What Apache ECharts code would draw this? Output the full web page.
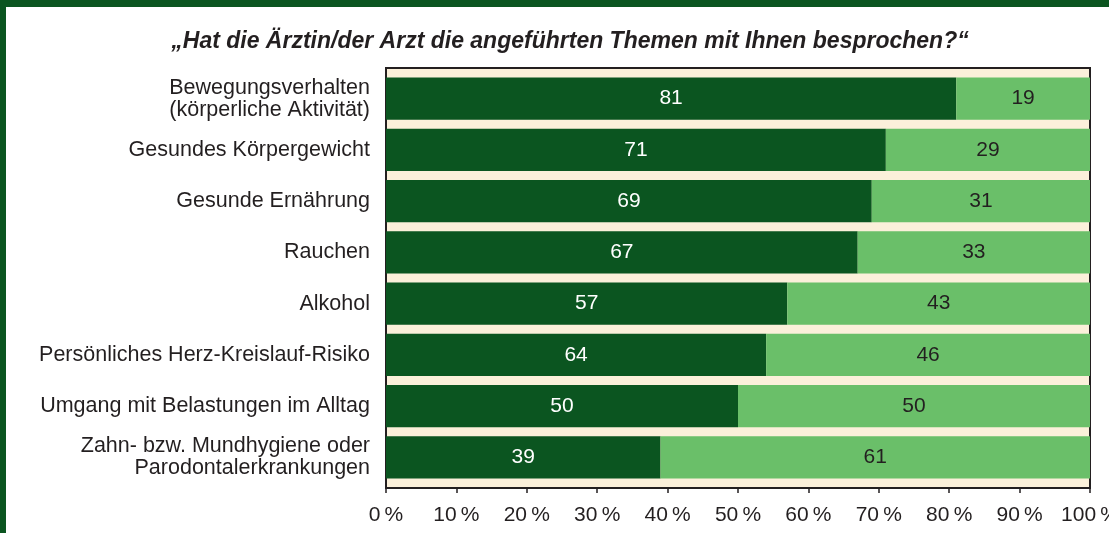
<!DOCTYPE html>
<html>
<head>
<meta charset="utf-8">
<script src="https://cdn.jsdelivr.net/npm/echarts@6/dist/echarts.min.js"></script>
<style>
  html, body { margin: 0; padding: 0; background: #fff; }
  #chart { width: 1109px; height: 533px; }
</style>
</head>
<body>
<div id="chart"></div>
<script>
// Themen (von oben nach unten)
const categories = [
  'Bewegungsverhalten\n(körperliche Aktivität)',
  'Gesundes Körpergewicht',
  'Gesunde Ernährung',
  'Rauchen',
  'Alkohol',
  'Persönliches Herz-Kreislauf-Risiko',
  'Umgang mit Belastungen im Alltag',
  'Zahn- bzw. Mundhygiene oder\nParodontalerkrankungen'
];
// ja (dunkelgrün) / nein (hellgrün), in Prozent
const yesValues = [81, 71, 69, 67, 57, 54, 50, 39];
const noValues = [19, 29, 31, 33, 43, 46, 50, 61];
// Beschriftung wie im Original (dort steht 64 statt 54)
const yesLabels = ['81', '71', '69', '67', '57', '64', '50', '39'];

const font = 'Liberation Sans, Arial, sans-serif';
const chart = echarts.init(document.getElementById('chart'));

const option = {
  animation: false,
  textStyle: { fontFamily: font },
  title: {
    text: '\u201EHat die Ärztin/der Arzt die angeführten Themen mit Ihnen besprochen?\u201C',
    left: 565,
    textAlign: 'center',
    top: 25,
    textStyle: { fontSize: 23, fontStyle: 'italic', fontWeight: 'bold', color: '#231f20', fontFamily: font }
  },
  graphic: [
    { type: 'rect', z: -10, shape: { x: 0, y: 0, width: 1109, height: 7 }, style: { fill: '#0b5520' } },
    { type: 'rect', z: -10, shape: { x: 0, y: 0, width: 6, height: 533 }, style: { fill: '#0b5520' } },
    // Rahmen + Hintergrund der Zeichenfläche
    {
      type: 'rect', z: -10,
      shape: { x: 386, y: 68, width: 704, height: 420 },
      style: { fill: '#fbf0da', stroke: '#231f20', lineWidth: 2 }
    }
  ],
  grid: {
    left: 386, right: 19, top: 73, bottom: 50,
    outerBoundsMode: 'none',
    containLabel: false
  },
  xAxis: {
    type: 'value',
    min: 0, max: 100, interval: 10,
    offset: 5,
    axisLine: { show: true, lineStyle: { color: '#231f20', width: 2 } },
    axisTick: { show: true, length: 5, lineStyle: { color: '#231f20', width: 1.5 } },
    splitLine: { show: false },
    axisLabel: {
      formatter: v => v + '\u2009%',
      fontSize: 21, color: '#231f20', margin: 17, hideOverlap: false
    }
  },
  yAxis: {
    type: 'category',
    data: categories,
    inverse: true,
    axisLine: { show: false },
    axisTick: { show: false },
    axisLabel: { fontSize: 21.5, color: '#231f20', margin: 16, lineHeight: 22, align: 'right' }
  },
  series: [
    {
      name: 'ja',
      type: 'bar',
      stack: 'all',
      data: yesValues,
      barCategoryGap: '17.5%',
      itemStyle: { color: '#0b5520' },
      label: {
        show: true, position: 'inside', color: '#ffffff', fontSize: 21,
        formatter: p => yesLabels[p.dataIndex]
      }
    },
    {
      name: 'nein',
      type: 'bar',
      stack: 'all',
      data: noValues,
      barCategoryGap: '17.5%',
      itemStyle: { color: '#6abf69' },
      label: { show: true, position: 'inside', color: '#231f20', fontSize: 21 }
    }
  ]
};
chart.setOption(option);
</script>
</body>
</html>
